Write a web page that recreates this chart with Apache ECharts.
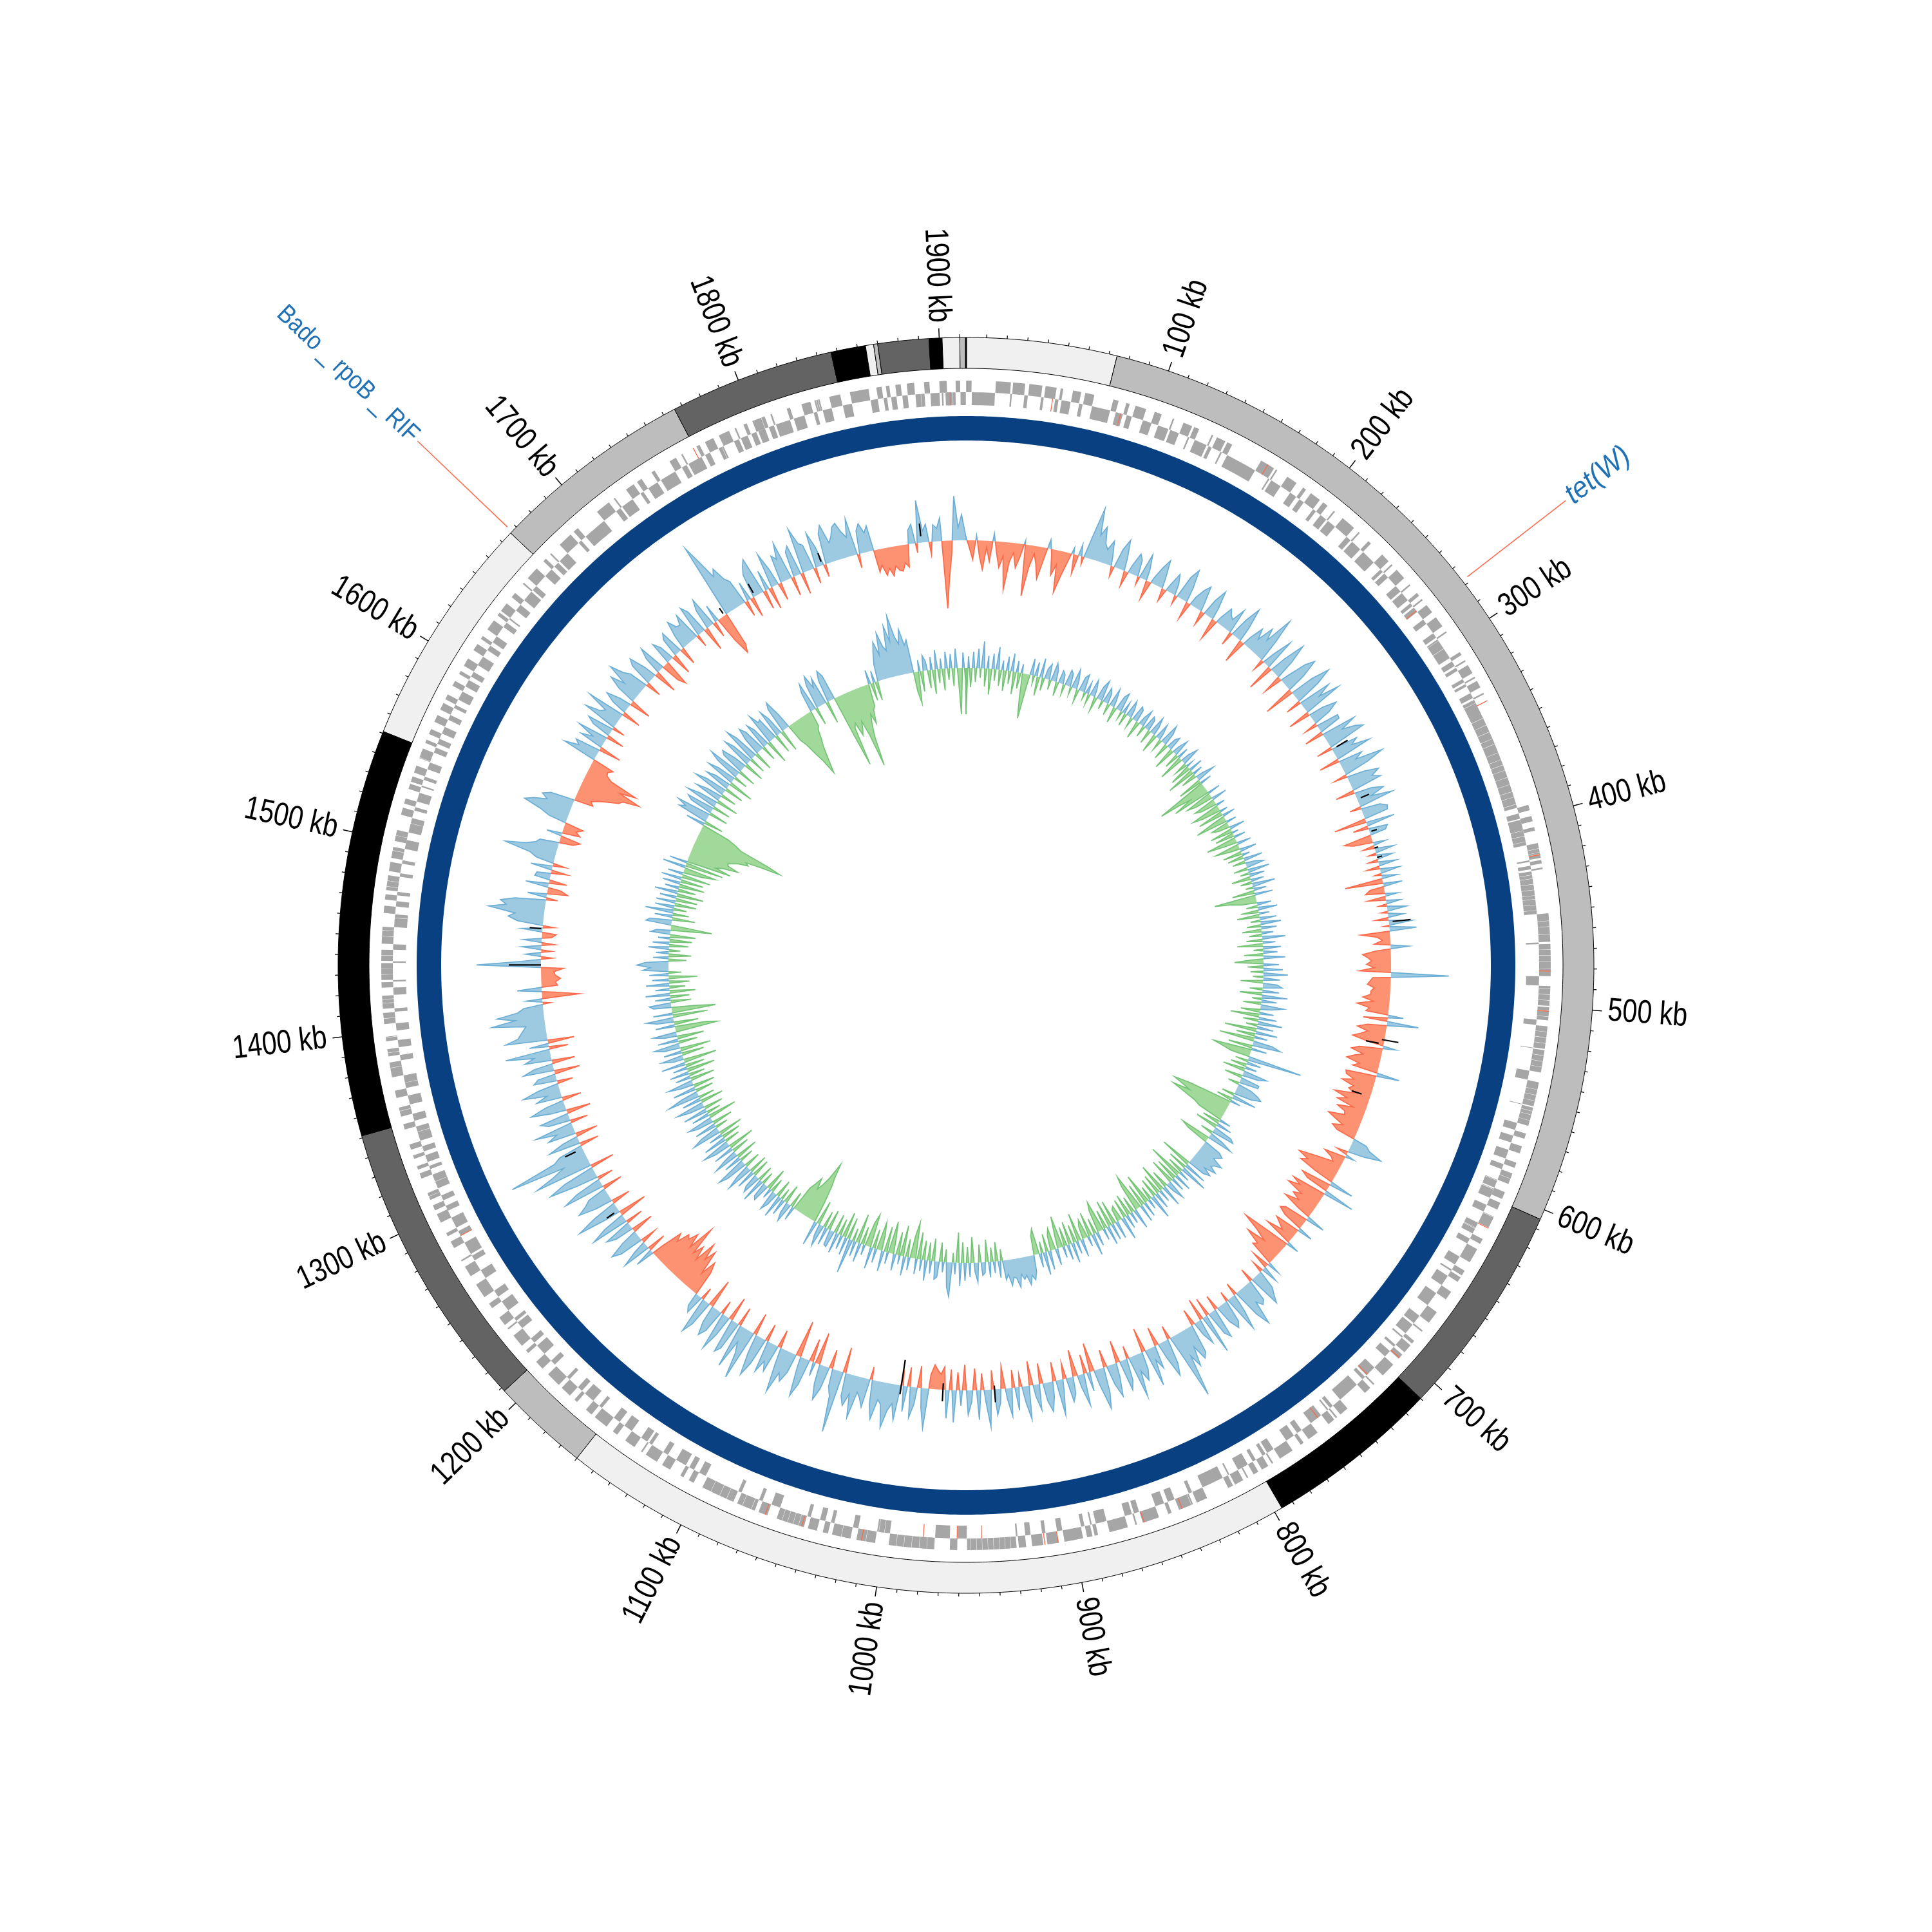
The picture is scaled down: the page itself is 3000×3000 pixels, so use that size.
<!DOCTYPE html>
<html><head><meta charset="utf-8">
<style>html,body{margin:0;padding:0;background:#fff}#c{width:3000px;height:3000px}</style>
<script src="https://cdn.jsdelivr.net/npm/echarts@6/dist/echarts.min.js"></script>
</head><body><div id="c"></div>
<script>
// genome length and tick labels (kb)
const genomeKb = 1913;
const majorTicks = [100,200,300,400,500,600,700,800,900,1000,1100,1200,1300,1400,1500,1600,1700,1800,1900];
const tickLabels = ['100 kb','200 kb','300 kb','400 kb','500 kb','600 kb','700 kb','800 kb','900 kb','1000 kb','1100 kb','1200 kb','1300 kb','1400 kb','1500 kb','1600 kb','1700 kb','1800 kb','1900 kb'];
// outer ideogram blocks
const contigEnd   = [74,605,710,796,1160,1208,1351,1551,1666,1766,1847,1864,1868,1870,1895,1901.4,1910,1913];
const contigShade = ['#f0f0f0','#bdbdbd','#636363','#000000','#f0f0f0','#bdbdbd','#636363','#000000','#f0f0f0','#bdbdbd','#636363','#000000','#f0f0f0','#bdbdbd','#636363','#000000','#f0f0f0','#bdbdbd'];
// annotated genes
const noteNames = ['tet(W)','Bado _ rpoB _ RIF'];
const noteKb = [277.5,1667];
const noteItalic = [true,false];
// gene runs per 100 kb: positive = forward strand, negative = reverse strand, size in kb
const geneRuns = [
[3,-12.5,8,-1,6.5,-2,7,-1.5,6,-2,1.5,-5,4.5,-2,5,-10,3,-4,2,-3,6,-5,2.5],
[4,-6,1,-5,5,-1,3,-7,1,-2,5,-1,3,-17,8,-1,1,-6,6,-4,2,-3,6,-2],
[3,-4,1,-5,8,-3,1,-6,2,-8,5,-2,1,-3,6,-4,1,-5,2,-2,1,-3,5,-3,6,-3,1,-1,-5],
[-6,2,-3,1,-2,5,-2,1,-1.5,4,-3,1,-2,-9,-4,-4,-4,-3,-5,-4,-3,-3,-4,-4,-4,-3,-4,-2,3,-3,3,-3,2],
[-3,-3,-3,-3,-2,3,2,1,2,-1,2,-2,1,-2,-2,-3,-3,-3,-2,-3,-3,-2,4,3,4,4,-1,3,3,3,4,4,-5,1.5,3,3,3],
[2,3,2,-3,3,3,3,3,-0.5,3,3,3,3,-5,4,3,3,3,-0.5,2,2,3,3,-4,3,-4,4,-5,3,-3,3,3,-0.5,-4,4],
[-0.5,-5,4,-4,0.5,6,-3,-0.5,-3,3,-3,8,-5,3,-1,3,-6,5,-8,7,-5,1,-6,2,-1,5,-1.5],
[3,-4,8,-6,1,-2,4,-12,5,-2,1,-1,4,-7,6,-3,2,-5,8,-4,1,-2,4,-2,3,-5],
[-3,1,-2,5,-1,3,-12,6,-2,1,7,-4,2,-5,9,-3,1,-4,10,-6,2,-1,3,-2,6],
[5,-3,6,-2,6,-3,4,-1,3,3,3,3,3,3,3,3,2,-5,4,-8,4,4,4,4,4,4,-3],
[-3,-1,5,5,-3,5,5,-2,3,-3,5,-2,3,3,3,3,3,-5,5,-2,2,5,3,-2,4,4,5,5],
[-4,3,-3,2,-6,5,-3,7,-2,1,-4,6,-5,3,-4,8,-2,4,-6,2,-3,6,-2,8],
[-3,5,-6,2,-3,7,-4,1,-2,5,-6,3,-4,8,-5,6,-3,1,-7,4,-3,2,-6,5],
[-3,3,-3,2,2,-4,-4,3,-2,2,-4,2,-3,3,-5,-3,3,-4,3,2,-5,4,-3,-4,5,3,-3,2,2,-4,2,0.5],
[-4,3,3,-2,3,2,2,-4,3,-1,3,3,3,-1,3,3,-3,4,3,2,-5,-2,4,-3,3,-2,2,3,3,-2,5,-2,4,2,-5,1],
[3,3,-5,-3,4,-2,3,-5,3,-1,3,-2,4,-4,0.5,5,-3,2,-3,3,-4,4,-3,4,-2,3,-5,3,-4,2,-3,4,-2],
[3,-5,4,-3,2,-4,6,-3,2,-1,5,-4,3,-6,1,-3,7,-5,2,-3,1,-6,8,-2,3,-9],
[-5,8,-3,1,-7,5,-2,3,-6,2,-9,4,-3,1,-8,2,-3,5,-2,-1,6,-3,1,-4,2,-3,5],
[-4,2,-3,1,-8,2,-6,5,-2,1,1,1,-5,6,-5,10,-4,3,-2,2,-3,3,-3,4,-3,-2,3,-5,3,-3],
[-1,2,-1,-2,-1.5,2.5,-3,1.5]
];
// genes picked out in red
const redGeneKb = [1904.3,46,83,165,275,335,420,481,502,620,702,720,755,841,862,908,915,948,961,979,1011,1043,1063,1285,1765];
const redGeneStrand = [-1,-1,-1,1,-1,1,1,1,1,1,1,-1,-1,1,1,1,1,-1,-1,-1,1,1,1,-1,1];
// outer wave track, deviation per 2.5 kb, rows of 100 kb
const waveOuter = [
[5,-12,-30,8,-25,-45,-10,-32,12,-18,-40,-22,-74,-30,-15,-38,-20,6,-80,-35,-12,-28,-50,-18,14,-8,-40,-22,-65,-38,-15,10,-30,18,-12,35,81,40,55,30],
[22,38,14,-16,30,48,20,-24,12,34,26,-12,40,18,-30,8,28,44,16,-20,10,32,18,-14,36,52,24,-28,14,30,40,12,-22,26,46,18,-34,10,30,22],
[18,40,-22,30,55,24,-38,14,36,20,46,28,73,35,-18,22,50,-42,26,60,32,-30,12,44,58,30,-48,38,66,40,-25,52,30,62,-35,24,45,28,-20,36],
[35,-30,55,30,50,61,-25,42,30,58,-32,38,25,68,40,-20,28,50,36,48,-30,28,45,22,55,-18,30,40,38,-51,45,-24,30,25,-44,-30,20,-18,30,-12],
[25,-15,28,-20,30,-10,24,-59,30,-22,-30,20,-28,22,-12,30,-10,24,-20,36,-8,42,-45,-20,-12,-25,28,-22,-44,-36,-30,-38,-26,-49,90,-28,-32,-36,-25,-30],
[-30,-42,-25,-50,-30,-35,24,-38,49,-30,-45,-28,-38,-50,-25,20,-36,-48,-28,-42,-52,-30,-40,36,-48,-46,-32,-50,-30,-36,-26,-56,-34,-48,-20,-44,-30,-28,-53,-40],
[-25,-40,-30,22,30,52,26,-18,14,-34,-20,-14,-44,-68,-50,-60,-30,38,-48,-36,49,-55,-40,-58,-30,-42,-28,-50,-22,30,-38,-45,-32,24,-40,-30,-20,-46,20,-34],
[-78,-50,-30,-60,-35,-40,20,-28,26,-18,30,40,52,-22,35,40,30,67,45,-20,30,58,-16,36,44,28,-24,48,38,-30,63,-35,40,22,-26,46,54,30,60,40],
[105,30,-22,40,58,24,-30,36,20,60,-38,28,44,26,66,-20,34,48,-35,22,52,30,-28,40,64,24,-45,30,-30,50,20,-42,26,38,-25,18,55,-30,24,46],
[28,-32,40,18,-38,52,24,-20,36,-28,44,16,-35,22,40,-30,58,20,-26,46,-34,18,38,-40,24,-28,50,-32,44,-36,-24,-30,-38,-22,62,30,-34,26,48,-30],
[40,-25,55,30,42,70,35,28,60,38,-20,45,32,24,66,30,50,36,-40,97,42,28,-30,35,55,30,-50,22,-36,40,62,18,-57,30,48,36,70,26,-28,44],
[30,50,-28,42,65,30,-35,80,40,24,70,-30,46,55,-38,32,60,-22,36,48,28,-45,40,58,-20,30,22,-40,-55,-30,-68,-50,-75,-40,-62,-45,-90,-48,-70,-55],
[-60,-40,-52,-20,30,-30,45,20,-25,38,52,26,-35,30,44,-28,60,35,-45,25,70,38,-30,28,55,40,30,-32,65,42,-25,36,78,50,-38,92,60,40,126,50],
[38,-30,50,25,-35,44,28,60,-28,34,46,-38,24,55,30,-30,40,22,58,32,-25,36,28,-40,48,30,-36,42,26,70,-30,30,-41,65,45,40,35,30,82,45],
[73,40,30,-12,25,-58,-20,38,-25,-22,-30,-22,-20,-35,100,30,-18,24,-16,30,-20,28,-15,-22,32,-18,40,55,45,87,60,70,48,-18,30,-32,-20,36,-28,24],
[22,-25,34,-20,28,40,81,50,35,30,-22,-32,24,-28,-20,-30,28,45,73,60,40,50,38,-30,-25,-35,-50,-65,-70,-95,-60,-85,-40,-30,-28,-35,54,32,40,-35],
[38,20,48,-28,30,42,-20,55,32,26,60,-30,24,40,18,-34,30,50,28,61,40,30,-25,36,46,20,-37,28,44,-30,-42,36,24,-33,30,38,-28,22,46,32],
[30,45,-20,50,38,-38,32,48,-25,28,-40,-67,-55,120,90,60,70,48,40,-25,30,-32,38,50,59,-30,32,-35,55,26,-28,44,36,60,-30,40,48,-34,71,45],
[40,-25,55,32,-20,48,60,30,38,52,56,40,30,58,-22,36,46,30,40,-35,-25,-42,-32,-45,-30,-38,-40,-28,-35,22,30,-15,66,18,28,-20,26,20,36,-105],
[-60,-20,69,20,40,10]
];
// inner wave track, deviation per 2.5 kb, rows of 100 kb
const waveInner = [
[-72,18,-30,25,-22,30,-15,42,-28,20,-40,24,-18,35,-25,15,-32,22,-20,28,-35,18,-25,14,-40,-70,-18,26,-12,22,-30,30,-20,16,24,-15,28,18,-22,20],
[15,-15,25,20,-12,30,14,-20,22,28,-10,18,-16,26,12,-22,20,32,-14,24,16,-18,28,10,-25,22,30,-12,18,-20,26,14,-16,24,20,-28,12,26,-18,22],
[18,-22,28,14,-30,24,10,-18,32,20,-26,16,22,-35,12,26,-24,18,-40,14,28,-20,10,-34,22,-45,16,-25,12,30,-38,18,-80,-50,-30,-60,20,-42,-28,24],
[-35,-25,14,-45,-30,12,-40,20,-22,-50,16,-28,-18,24,-35,10,-30,18,-48,-20,22,-38,-16,26,-30,12,-25,30,-20,16,28,-22,34,-14,24,-30,20,-18,36,-12],
[20,-35,28,-65,-40,-25,22,-18,30,-28,16,-35,26,-15,32,-22,24,-30,18,-20,36,-25,20,-40,28,-15,22,-30,34,-18,-45,24,-25,30,-20,38,-16,26,-35,22],
[30,-20,26,-35,40,-15,24,-28,36,18,-30,22,-45,28,-24,38,-18,26,-50,34,-30,20,-55,30,44,-38,24,-60,-45,-30,85,-20,22,-25,18,-35,38,26,-28,30],
[30,-18,22,35,42,28,-20,38,-25,16,-70,-95,-80,-65,-92,-72,-50,-40,18,-28,24,-35,30,36,-20,22,40,-48,-35,28,36,30,26,44,34,30,42,24,38,28],
[-50,36,-30,44,-25,18,-55,28,-35,22,-40,30,14,-28,34,-45,20,-32,26,-30,38,-22,16,-48,24,-36,28,-58,-42,32,-26,18,-34,22,-30,36,-24,-20,28,-38],
[26,-42,30,-30,18,-48,-35,22,-25,34,-38,16,-30,-20,28,-44,20,-28,32,-36,24,-30,18,-50,-20,26,-34,-24,30,-28,36,-18,22,-40,-30,26,38,30,44,28],
[34,25,45,30,28,40,22,30,-18,26,-30,18,-22,24,-35,16,20,-28,30,14,-40,22,-25,28,-32,36,-47,18,-15,53,38,-20,16,-30,24,28,-35,20,-28,32],
[-30,18,-42,24,-56,-35,20,-28,30,-48,14,-36,26,-22,-50,18,-40,32,-25,-44,22,-30,34,-52,-38,16,-28,30,-46,24,-20,54,-34,28,-40,22,-26,32,-30,26],
[24,-32,28,-26,34,18,-38,39,-30,-60,-75,-97,-70,-55,-45,-62,-50,-40,22,-25,30,18,-30,26,-18,36,-28,20,32,-22,16,-35,28,24,-20,38,-25,30,22,-28],
[30,-30,42,22,-26,34,48,-22,28,-35,40,18,-28,32,-42,26,44,-24,36,-30,22,-38,46,30,-20,34,-32,26,40,-45,28,-22,38,-30,24,44,-36,30,-25,50],
[26,-28,36,-34,20,40,-38,24,-25,30,-44,22,-30,38,-52,18,34,-35,28,-48,26,40,-30,32,-42,20,36,-66,-50,30,-38,26,42,-55,30,-68,-40,28,34,-32],
[24,-30,38,-40,22,-25,36,-32,26,-45,30,-20,40,28,49,36,-28,24,-35,20,-18,32,-30,26,-35,18,-40,30,22,-64,-22,40,34,-36,28,-25,44,-20,30,-34],
[30,-34,26,-42,36,-28,22,-40,28,-36,32,-45,24,-30,-50,36,-60,28,-70,-45,-55,-79,-62,-60,-68,-75,-90,-85,-110,-140,-120,-70,-60,-45,30,-30,48,39,54,-30],
[36,44,-28,50,30,-35,42,24,-25,52,34,-30,40,26,-40,46,30,-22,38,54,-28,36,42,20,-32,48,34,-26,56,40,-30,28,46,36,-24,42,30,-38,50,34],
[36,-30,44,28,-35,40,50,24,-28,-40,-60,-75,-99,-85,-70,-55,-45,-30,-25,32,45,-28,38,52,30,44,-35,36,50,40,-60,-116,-55,-48,-70,-62,-50,-75,-126,-80],
[-60,-45,-61,-40,-35,22,-28,18,-30,26,45,60,38,72,50,42,80,55,94,60,48,70,44,52,-30,-49,18,-32,24,14,-28,20,-38,30,-22,16,-34,26,-18,22],
[-28,30,-18,-72,24,-20]
];
// short black marks on the outer wave: position, from, to (deviation)
const blackKb   = [316,356,381,393,400,447,532,535,574,936,973,1003,1248,1299,1435,1461,1729,1755,1808,1881];
const blackFrom = [8,6,3,0,0,6,-4,-28,-30,-6,-10,-40,8,12,0,2,4,6,6,10];
const blackTo   = [28,20,12,6,8,34,22,-8,-14,20,18,14,22,30,50,20,14,22,20,30];

const cssStyle = {
  c:[1500,1499], ideoIn:927, ideoOut:975, gene:[870,890,908], ring:[815,853], base:[660,462],
  blue:'#6baed6', blueFill:'#9ecae1', red:'#fb6a4a', redFill:'#fc9272', green:'#74c476', greenFill:'#a1d99b',
  gene_:'#a6a6a6', navy:'#084081', note:'#2171b5'
};

function flatten(rows){
  const out=[];
  rows.forEach((row,i)=>{
    const step = i<19 ? 100/row.length : 2.5;
    row.forEach((v,j)=>out.push([i*100+j*step,v]));
  });
  out.push([genomeKb,rows[0][0]]);
  return out;
}
function splitRuns(pts,sign){
  const runs=[];let cur=null;
  for(let i=0;i<pts.length;i++){
    const [k,v]=pts[i];
    const on=v*sign>0;
    if(on){
      if(!cur){
        cur=[];
        if(i>0){const [k0,v0]=pts[i-1];cur.push([k0+(k-k0)*(-v0)/(v-v0),0]);}
        else cur.push([k,0]);
      }
      cur.push([k,v]);
    }else if(cur){
      const [k0,v0]=pts[i-1];
      cur.push([k0+(k-k0)*(-v0)/(v-v0),0]);
      runs.push(cur);cur=null;
    }
  }
  if(cur){cur.push([cur[cur.length-1][0],0]);runs.push(cur);}
  return runs;
}
function arcBand(api,a,b,r0,r1){
  const n=Math.max(1,Math.ceil((b-a)/3)),p=[];
  for(let i=0;i<=n;i++)p.push(api.coord([r1,a+(b-a)*i/n]));
  for(let i=n;i>=0;i--)p.push(api.coord([r0,a+(b-a)*i/n]));
  return p;
}
function layer(items,draw){
  return {type:'custom',coordinateSystem:'polar',silent:true,animation:false,progressive:0,clip:false,
    data:items.map((_,i)=>[0,0]),
    renderItem:(params,api)=>draw(items[params.dataIndex],api)};
}
function waveLayer(rows,sign,base,stroke,fill){
  return layer(splitRuns(flatten(rows),sign),(run,api)=>{
    const top=run.map(p=>api.coord([base+p[1],p[0]]));
    const bot=run.slice().reverse().map(p=>api.coord([base,p[0]]));
    return {type:'group',children:[
      {type:'polygon',shape:{points:top.concat(bot)},style:{fill:fill}},
      {type:'polyline',shape:{points:top},style:{stroke:stroke,fill:null,lineWidth:1.7,lineJoin:'miter'}}
    ]};
  });
}
// contigs
const contigs=contigEnd.map((e,i)=>({a:i?contigEnd[i-1]:0,b:e,color:contigShade[i]}));
// genes
const genes=[];
geneRuns.forEach((row,i)=>{let k=i*100;row.forEach(v=>{const w=Math.abs(v);genes.push({a:k+0.08,b:Math.min(k+w-0.08,genomeKb),s:v>0?1:-1});k+=w;});});
// ticks
const minorTicks=[];for(let k=10;k<genomeKb;k+=10){if(k%100)minorTicks.push(k);}

const series=[
  layer([{}],(d,api)=>({type:'polygon',shape:{points:arcBand(api,0,genomeKb,cssStyle.ring[0],cssStyle.ring[1])},style:{fill:cssStyle.navy}})),
  layer(contigs,(d,api)=>({type:'polygon',shape:{points:arcBand(api,d.a,d.b,cssStyle.ideoIn,cssStyle.ideoOut)},style:{fill:d.color,stroke:'#000',lineWidth:1}})),
  layer([0],(d,api)=>{const a=api.coord([cssStyle.ideoIn,0]),b=api.coord([cssStyle.ideoOut,0]);return {type:'line',shape:{x1:a[0],y1:a[1],x2:b[0],y2:b[1]},style:{stroke:'#000',lineWidth:3}};}),
  layer(genes,(d,api)=>{const r0=d.s>0?cssStyle.gene[1]:cssStyle.gene[0],r1=d.s>0?cssStyle.gene[2]:cssStyle.gene[1];
    return {type:'polygon',shape:{points:arcBand(api,d.a,d.b,r0,r1)},style:{fill:cssStyle.gene_}};}),
  layer(redGeneKb.map((k,i)=>({k,s:redGeneStrand[i]})),(d,api)=>{const r0=d.s>0?cssStyle.gene[1]:cssStyle.gene[0],r1=d.s>0?cssStyle.gene[2]:cssStyle.gene[1];
    return {type:'polygon',shape:{points:arcBand(api,d.k,d.k+0.45,r0,r1)},style:{fill:cssStyle.red}};}),
  waveLayer(waveOuter,1,cssStyle.base[0],cssStyle.blue,cssStyle.blueFill),
  waveLayer(waveOuter,-1,cssStyle.base[0],cssStyle.red,cssStyle.redFill),
  waveLayer(waveInner,1,cssStyle.base[1],cssStyle.blue,cssStyle.blueFill),
  waveLayer(waveInner,-1,cssStyle.base[1],cssStyle.green,cssStyle.greenFill),
  layer(blackKb.map((k,i)=>({k,f:blackFrom[i],t:blackTo[i]})),(d,api)=>{
    const a=api.coord([cssStyle.base[0]+d.f,d.k]),b=api.coord([cssStyle.base[0]+d.t,d.k]);
    return {type:'line',shape:{x1:a[0],y1:a[1],x2:b[0],y2:b[1]},style:{stroke:'#000',lineWidth:2.2}};}),
  layer(minorTicks,(k,api)=>{const a=api.coord([975,k]),b=api.coord([980,k]);
    return {type:'line',shape:{x1:a[0],y1:a[1],x2:b[0],y2:b[1]},style:{stroke:'#000',lineWidth:1.2}};}),
  layer(majorTicks,(k,api)=>{const a=api.coord([975,k]),b=api.coord([990,k]);
    return {type:'line',shape:{x1:a[0],y1:a[1],x2:b[0],y2:b[1]},style:{stroke:'#000',lineWidth:1.5}};}),
  layer(majorTicks.map((k,i)=>({k,t:tickLabels[i]})),(d,api)=>{
    const p=api.coord([999,d.k]),th=d.k/genomeKb*360,right=th<180;
    const rot=(right?90-th:270-th)*Math.PI/180;
    return {type:'text',x:p[0],y:p[1],rotation:rot,scaleX:0.81,scaleY:1,style:{text:d.t,fill:'#000',
      font:'51px "Liberation Sans",sans-serif',align:right?'left':'right',verticalAlign:'middle'}};}),
  layer(noteKb,(k,api)=>{const a=api.coord([985,k]),b=api.coord([1178,k]);
    return {type:'line',shape:{x1:a[0],y1:a[1],x2:b[0],y2:b[1]},style:{stroke:cssStyle.red,lineWidth:1.5}};}),
  layer(noteKb.map((k,i)=>({k,t:noteNames[i],it:noteItalic[i]})),(d,api)=>{
    const p=api.coord([1184,d.k]),th=d.k/genomeKb*360,right=th<180;
    const rot=(right?90-th:270-th)*Math.PI/180;
    return {type:'text',x:p[0],y:p[1],rotation:rot,scaleX:d.it?0.92:0.87,scaleY:1,style:{text:d.t,fill:cssStyle.note,
      font:(d.it?'italic 46px':'40px')+' "Liberation Sans",sans-serif',align:right?'left':'right',verticalAlign:'middle'}};})
];
const chart=echarts.init(document.getElementById('c'),null,{renderer:'canvas',width:3000,height:3000});
chart.setOption({
  backgroundColor:'#ffffff',animation:false,
  polar:{center:cssStyle.c,radius:[0,1000]},
  angleAxis:{type:'value',min:0,max:genomeKb,startAngle:90,clockwise:true,show:false},
  radiusAxis:{type:'value',min:0,max:1000,show:false},
  tooltip:{show:false},
  series:series
});
</script></body></html>
